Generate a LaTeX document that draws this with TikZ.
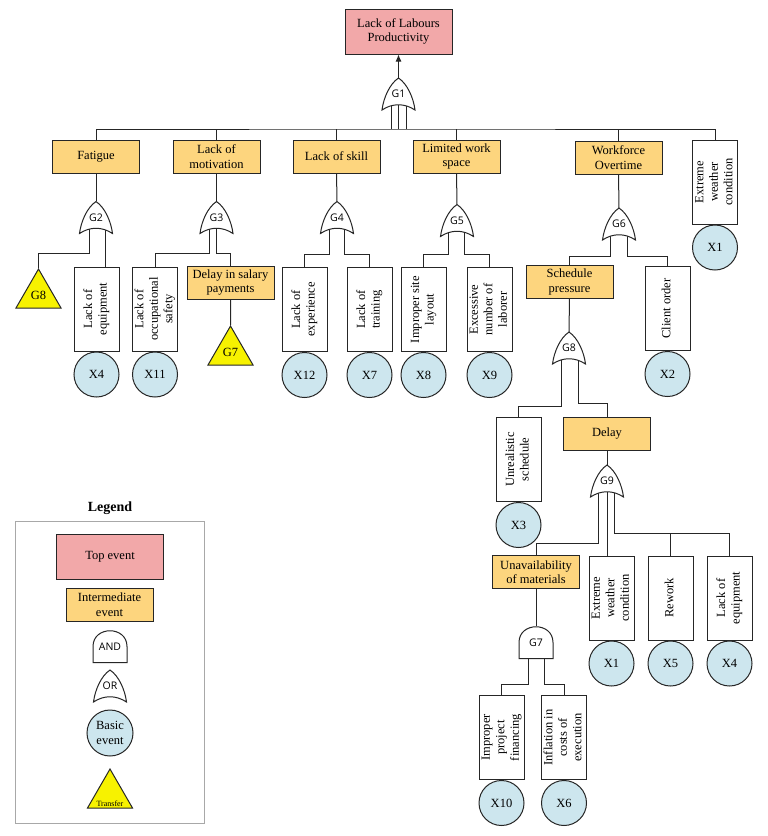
\documentclass[tikz,border=0pt]{standalone}
\usepackage{fontspec}
\setmainfont{Liberation Serif}
\newfontfamily\gatefont{Open Sans}
\usepackage{graphicx}
\usetikzlibrary{positioning,shapes.geometric,arrows.meta,backgrounds}

\definecolor{toppink}{HTML}{F2A8A9}
\definecolor{midgold}{HTML}{FDD57E}
\definecolor{basicblue}{HTML}{CDE6EE}
\definecolor{trfyellow}{HTML}{F7F200}
\definecolor{framegray}{HTML}{A8A8A8}

\newcommand\sidetext[1]{\rotatebox{90}{\begin{tabular}{@{}c@{}}#1\end{tabular}}}
\newcommand\orgate[3]{%
  \draw[gateline,shift={#2}] (-16.5,16) .. controls (-15,4) and (-9,-10) .. (0,-16)
    .. controls (9,-10) and (15,4) .. (16.5,16)
    .. controls (6,9) and (-6,9) .. cycle;
  \node[gatenode] (#1) at #2 {#3};}
\newcommand\andgate[3]{%
  \draw[gateline,shift={#2}] (-17,16) -- (-17,0)
    .. controls (-17,-21) and (17,-21) .. (17,0) -- (17,16) -- cycle;
  \node[gatenode] (#1) at #2 {#3};}

\tikzset{
  evfont/.style={font=\fontsize{12.5}{14.5}\selectfont},
  topev/.style={evfont,draw=black!85,line width=1pt,fill=toppink,
    minimum width=107pt,minimum height=45pt,align=center,inner sep=1pt},
  midev/.style={evfont,draw=black!85,line width=1pt,fill=midgold,
    minimum width=87pt,minimum height=33pt,align=center,inner sep=1pt},
  basebox/.style={evfont,draw=black!85,line width=1pt,fill=white,
    minimum width=45pt,minimum height=84pt,inner sep=0pt},
  basic/.style={evfont,circle,draw=black!85,line width=1pt,fill=basicblue,
    minimum size=45pt,inner sep=0pt,align=center},
  transfer/.style={evfont,regular polygon,regular polygon sides=3,draw=black!85,
    line width=1pt,fill=trfyellow,minimum size=52pt,inner sep=0pt},
  gateline/.style={draw=black!85,line width=1pt,fill=white},
  gatenode/.style={font=\gatefont\fontsize{10.5}{12}\selectfont,
    minimum width=33pt,minimum height=32pt,inner sep=0pt},
  wire/.style={draw=black!85,line width=1pt},
}

\begin{document}
\begin{tikzpicture}[x=1pt,y=-1pt]
  \useasboundingbox (0,0) rectangle (768,836);
  % top event and first gate
  \node[topev] (top) at (398.5,31.5) {Lack of Labours\\Productivity};
  \orgate{G1}{(398.5,94)}{G1}
  \coordinate (bus1) at (398.5,129);

  % first level
  \node[midev] (fat) at (96,156.5) {Fatigue};
  \node[midev] (mot) at (216.5,156.5) {Lack of\\motivation};
  \node[midev] (skl) at (336.5,156.5) {Lack of skill};
  \node[midev] (lws) at (456.5,156.5) {Limited work\\space};
  \node[midev] (wfo) at (618.5,157.5) {Workforce\\Overtime};
  \node[basebox] (ewc) at (715,182) {\sidetext{Extreme\\weather\\condition}};

  \orgate{G2}{(96,217.5)}{G2}
  \orgate{G3}{(216.5,217.5)}{G3}
  \orgate{G4}{(337,217.5)}{G4}
  \orgate{G5}{(457,220.5)}{G5}
  \orgate{G6}{(619,224)}{G6}

  % second level
  \node[transfer,anchor=north] (T8) at (38.5,268) {G8};
  \node[basebox] (lqe) at (96.5,309) {\sidetext{Lack of\\equipment}};
  \node[basebox] (los) at (155,309) {\sidetext{Lack of\\occupational\\safety}};
  \node[midev] (dsp) at (230.5,282.5) {Delay in salary\\payments};
  \node[transfer,anchor=north] (T7) at (230.5,325) {G7};
  \node[basebox] (loe) at (304.5,309.5) {\sidetext{Lack of\\experience}};
  \node[basebox] (lot) at (369.5,309.5) {\sidetext{Lack of\\training}};
  \node[basebox] (isl) at (423.5,309.5) {\sidetext{Improper site\\layout}};
  \node[basebox] (enl) at (489.5,309.5) {\sidetext{Excessive\\number of\\laborer}};
  \node[midev] (spr) at (569.5,282) {Schedule\\pressure};
  \node[basebox] (cor) at (667.5,308.5) {\sidetext{Client order}};

  % schedule pressure branch
  \orgate{G8}{(569,348)}{G8}
  \node[basebox] (urs) at (518.5,459.5) {\sidetext{Unrealistic\\schedule}};
  \node[midev] (dly) at (607,434) {Delay};
  \orgate{G9}{(607,481)}{G9}
  \node[midev] (uom) at (536,572) {Unavailability\\of materials};
  \node[basebox] (ewc2) at (611.5,598) {\sidetext{Extreme\\weather\\condition}};
  \node[basebox] (rwk) at (670.5,598) {\sidetext{Rework}};
  \node[basebox] (lqe2) at (729.5,598) {\sidetext{Lack of\\equipment}};
  \andgate{G7}{(536,642.5)}{G7}
  \node[basebox] (ipf) at (501.5,737.5) {\sidetext{Improper\\project\\financing}};
  \node[basebox] (ice) at (564,737.5) {\sidetext{Inflation in\\costs of\\execution}};

  % basic events
  \foreach \b/\x in {ewc/X1,lqe/X4,los/X11,loe/X12,lot/X7,isl/X8,enl/X9,cor/X2,
      urs/X3,ewc2/X1,rwk/X5,lqe2/X4,ipf/X10,ice/X6}
    \node[basic,below=0pt of \b] (x-\b) {\x};

  \draw[wire,-{Latex[length=7pt,width=6pt]}] (G1) -- (top);

  \begin{scope}[on background layer]
    \foreach \dx in {-7,0,8}
      \draw[wire] ([xshift=\dx pt]G1.center) -- ([xshift=\dx pt]G1.center |- bus1);
    \draw[wire] (fat) |- (bus1) -| (ewc);
    \foreach \n in {mot,skl,lws,wfo} \draw[wire] (\n) -- (\n |- bus1);
    \foreach \n/\g in {fat/G2,mot/G3,skl/G4,lws/G5,wfo/G6,dsp/T7,spr/G8,dly/G9,uom/G7}
      \draw[wire] (\n) -- (\g);
    % gate inputs
    \draw[wire] ([xshift=-7pt]G2.center) -- ++(0,35.5) -| (T8);
    \draw[wire] ([xshift=9pt]G2.center) -- ([xshift=9pt]G2.center |- lqe.north);
    \draw[wire] ([xshift=-7.5pt]G3.center) -- ++(0,35.5) -| (los);
    \draw[wire] (G3.center) -- ++(0,35.5) -| (dsp);
    \draw[wire] ([xshift=-8pt]G4.center) -- ++(0,36.5) -| (loe);
    \draw[wire] ([xshift=7pt]G4.center) -- ++(0,36.5) -| (lot);
    \draw[wire] ([xshift=-9pt]G5.center) -- ++(0,33.5) -| (isl);
    \draw[wire] ([xshift=7pt]G5.center) -- ++(0,33.5) -| (enl);
    \draw[wire] ([xshift=-9pt]G6.center) -- ++(0,32) -| (spr);
    \draw[wire] ([xshift=8pt]G6.center) -- ++(0,32) -| (cor);
    \draw[wire] ([xshift=-8pt]G8.center) -- ++(0,58) -| (urs);
    \draw[wire] ([xshift=9pt]G8.center) -- ++(0,55) -| (dly);
    \draw[wire] ([xshift=-9pt]G9.center) -- ++(0,62) -| (uom);
    \draw[wire] (G9.center) -- (G9.center |- ewc2.north);
    \draw[wire] ([xshift=7pt]G9.center) -- ++(0,52) coordinate (bus9) -| (lqe2);
    \draw[wire] (rwk) -- (rwk |- bus9);
    \draw[wire] ([xshift=-8pt]G7.center) -- ++(0,41.5) -| (ipf);
    \draw[wire] ([xshift=8pt]G7.center) -- ++(0,41.5) -| (ice);
  \end{scope}

  % legend
  \node[font=\fontsize{14}{16}\selectfont\bfseries] (lgd) at (110,508) {Legend};
  \draw[draw=framegray,line width=0.8pt] (15,521) rectangle (204,823);
  \node[topev] (ltop) at (110,556.5) {Top event};
  \node[midev] (lmid) at (109.5,604.5) {Intermediate\\event};
  \andgate{land}{(110,646.5)}{AND}
  \orgate{lor}{(110,686)}{OR}
  \node[basic,minimum size=46pt] (lbas) at (110,733) {Basic\\event};
  \node[transfer,anchor=north] (ltrf) at (110,768) {};
  \node[font=\fontsize{8}{9}\selectfont,inner sep=1pt,above=0.5pt of ltrf.south] (ltrt) {Transfer};
\end{tikzpicture}
\end{document}
